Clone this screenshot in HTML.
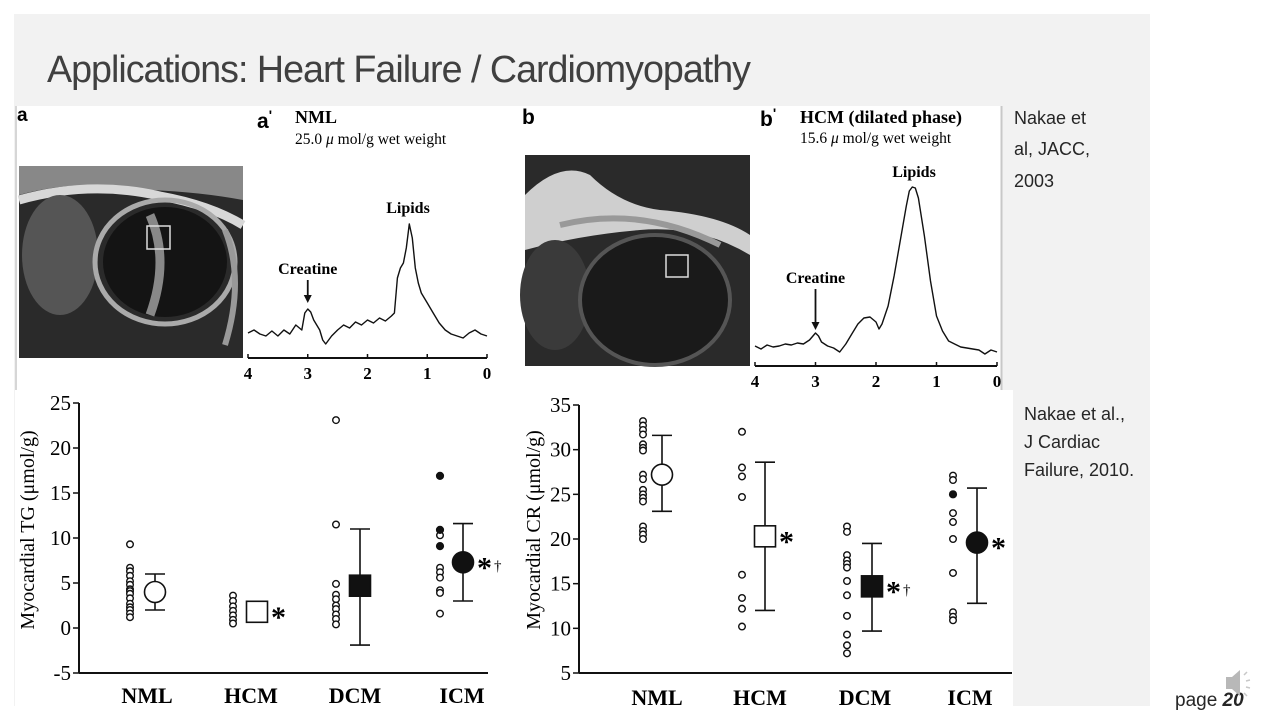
<!DOCTYPE html>
<html><head><meta charset="utf-8">
<style>
html,body{margin:0;padding:0;background:#fff;}
svg{display:block;}
.serif{font-family:"Liberation Serif","DejaVu Serif",serif;}
.sans{font-family:"Liberation Sans","DejaVu Sans",sans-serif;}
</style></head>
<body>
<svg id="slide" width="1280" height="720" viewBox="0 0 1280 720" xmlns="http://www.w3.org/2000/svg">
  <rect x="0" y="0" width="1280" height="720" fill="#ffffff"/>
  <rect x="14" y="14" width="1136" height="692" fill="#f2f2f2"/>
  <text class="sans" x="47" y="82" font-size="38" fill="#404040" textLength="703" lengthAdjust="spacingAndGlyphs" letter-spacing="-1">Applications: Heart Failure / Cardiomyopathy</text>
  <rect x="15" y="106" width="986" height="285" fill="#ffffff"/>
  <line x1="1001.5" y1="106" x2="1001.5" y2="390" stroke="#c8c8c8" stroke-width="2"/>
  <line x1="16" y1="106" x2="16" y2="390" stroke="#c8c8c8" stroke-width="1.5"/>
  <rect x="15" y="390" width="998" height="316" fill="#ffffff"/>

  <g class="sans" font-size="18" fill="#262626">
    <text x="1014" y="124">Nakae et</text>
    <text x="1014" y="155">al, JACC,</text>
    <text x="1014" y="187">2003</text>
  </g>
  <g class="sans" font-size="18" fill="#262626">
    <text x="1024" y="420">Nakae et al.,</text>
    <text x="1024" y="448">J Cardiac</text>
    <text x="1024" y="476">Failure, 2010.</text>
  </g>
  <text class="sans" x="1175" y="706" font-size="19" fill="#262626">page <tspan font-weight="bold" font-style="italic">20</tspan></text>
  <g transform="translate(1226,670)">
    <path d="M0 7 h6 l8 -7 v26 l-8 -7 h-6 z" fill="#b8b8b8"/>
    <path d="M18 5 l3 -3 M20 11 l4 -1 M20 17 l4 1 M18 23 l3 3" stroke="#c8c8c8" stroke-width="1.5"/>
  </g>

  <text class="sans" x="17" y="121" font-size="19" font-weight="bold">a</text>
  <text class="sans" x="257" y="128" font-size="21" font-weight="bold">a<tspan font-size="14" dy="-8">'</tspan></text>
  <text class="serif" x="295" y="123" font-size="18" font-weight="bold">NML</text>
  <text class="serif" x="295" y="144" font-size="15.5">25.0 <tspan font-style="italic">μ</tspan> mol/g wet weight</text>
  <text class="sans" x="522" y="124" font-size="21" font-weight="bold">b</text>
  <text class="sans" x="760" y="126" font-size="21" font-weight="bold">b<tspan font-size="14" dy="-8">'</tspan></text>
  <text class="serif" x="800" y="123" font-size="18" font-weight="bold">HCM (dilated phase)</text>
  <text class="serif" x="800" y="143" font-size="15.5">15.6 <tspan font-style="italic">μ</tspan> mol/g wet weight</text>

  <g>
    <rect x="19" y="166" width="224" height="192" fill="#2a2a2a"/>
    <path d="M19 195 Q80 178 150 190 Q200 192 243 200 L243 166 L19 166 Z" fill="#888"/>
    <path d="M19 200 Q90 180 160 196 Q210 205 243 225" stroke="#d8d8d8" stroke-width="9" fill="none"/>
    <ellipse cx="60" cy="255" rx="38" ry="60" fill="#555"/>
    <ellipse cx="165" cy="262" rx="70" ry="62" fill="none" stroke="#aaa" stroke-width="5"/>
    <ellipse cx="165" cy="262" rx="62" ry="55" fill="#141414"/>
    <path d="M150 215 Q170 260 150 315" stroke="#888" stroke-width="9" fill="none"/>
    <path d="M225 230 Q245 280 225 345" stroke="#999" stroke-width="6" fill="none"/>
    <rect x="147" y="226" width="23" height="23" fill="none" stroke="#ddd" stroke-width="1.5"/>
  </g>
  <g>
    <rect x="525" y="155" width="225" height="211" fill="#2a2a2a"/>
    <path d="M525 195 Q560 160 590 175 Q620 205 660 210 Q720 215 750 235 L750 255 Q700 225 640 230 Q580 235 525 250 Z" fill="#cfcfcf"/>
    <path d="M560 225 Q640 205 720 245" stroke="#999" stroke-width="6" fill="none"/>
    <ellipse cx="555" cy="295" rx="35" ry="55" fill="#3a3a3a"/>
    <ellipse cx="655" cy="300" rx="75" ry="65" fill="#1a1a1a" stroke="#555" stroke-width="4"/>
    <rect x="666" y="255" width="22" height="22" fill="none" stroke="#ddd" stroke-width="1.5"/>
  </g>

  <g id="spectra"></g>
  <g id="charts"></g>
</svg>

<script>
const ppmA = [4.0,3.9,3.8,3.7,3.6,3.5,3.4,3.3,3.2,3.1,3.05,3.0,2.95,2.9,2.8,2.75,2.7,2.6,2.5,2.4,2.3,2.2,2.1,2.0,1.9,1.8,1.7,1.6,1.55,1.5,1.45,1.4,1.35,1.3,1.25,1.2,1.15,1.1,1.0,0.9,0.8,0.7,0.6,0.5,0.4,0.3,0.2,0.1,0.0];
const intA = [25,28,24,22,27,22,28,24,33,28,45,49,46,38,28,18,14,22,28,33,30,36,33,38,35,40,37,42,45,80,90,95,110,134,120,90,75,65,55,45,35,28,24,22,20,25,28,24,22];
const ppmB = [4.0,3.9,3.8,3.7,3.6,3.5,3.4,3.3,3.2,3.1,3.0,2.95,2.9,2.8,2.7,2.6,2.5,2.4,2.3,2.2,2.1,2.0,1.95,1.9,1.8,1.7,1.6,1.5,1.45,1.4,1.35,1.3,1.2,1.1,1.0,0.9,0.8,0.7,0.6,0.5,0.4,0.3,0.2,0.1,0.0];
const intB = [20,17,21,19,20,22,21,23,22,26,33,30,24,20,18,14,22,32,42,48,49,44,37,42,60,90,125,160,175,179,178,168,130,85,50,35,25,22,19,18,17,16,12,16,14];
const ppmTicks = [4,3,2,1,0];

const groups = ["NML","HCM","DCM","ICM"];
const tgTicks = [25,20,15,10,5,0,-5];
const tgOpen = [
  [9.3,6.7,6.3,5.8,5.2,4.8,4.3,4.1,3.8,3.3,2.7,2.3,2.0,1.6,1.2],
  [3.6,3.0,2.4,1.9,1.4,0.9,0.5],
  [23.1,11.5,4.9,3.7,3.2,2.5,2.1,1.5,1.0,0.4],
  [10.3,6.7,6.2,5.6,4.2,3.9,1.6]
];
const tgFilled = [[],[],[],[16.9,10.9,9.1]];
const tgMean = [4.0,1.8,4.7,7.3];
const tgLow = [2.0,1.8,-1.9,3.0];
const tgHigh = [6.0,1.8,11.0,11.6];
const tgMarks = ["","*","","*†"];
const crTicks = [35,30,25,20,15,10,5];
const crOpen = [
  [33.2,32.7,32.2,31.7,30.6,30.2,29.9,27.2,26.7,25.5,25.0,24.6,24.2,21.4,20.9,20.5,20.0],
  [32.0,28.0,27.0,24.7,16.0,13.4,12.2,10.2],
  [21.4,20.8,18.2,17.6,17.2,16.8,15.3,13.7,11.4,9.3,8.1,7.2],
  [27.1,26.6,22.9,21.9,20.0,16.2,11.8,11.3,10.9]
];
const crFilled = [[],[],[],[25.0]];
const crMean = [27.2,20.3,14.7,19.6];
const crLow = [23.1,12.0,9.7,12.8];
const crHigh = [31.6,28.6,19.5,25.7];
const crMarks = ["","*","*†","*"];

const NS = "http://www.w3.org/2000/svg";
function mk(tag, attrs, parent){
  const e = document.createElementNS(NS, tag);
  for (const k in attrs) e.setAttribute(k, attrs[k]);
  parent.appendChild(e);
  return e;
}

const spec = document.getElementById('spectra');
function drawSpectrum(cfg, ppm, inten, name){
  const xs = p => cfg.x0 + (4 - p) / 4 * (cfg.x1 - cfg.x0);
  const ys = v => cfg.axisY - v;
  const g = mk('g', {}, spec);
  
  
  const pts = ppm.map((p,i) => xs(p).toFixed(1) + ',' + ys(inten[i]).toFixed(1)).join(' ');
  const line = mk('polyline', {points: pts, fill: 'none', stroke: '#111', 'stroke-width': 1.4, 'stroke-linejoin': 'round'}, g);
  
  
  const ax = mk('line', {x1: cfg.x0, x2: cfg.x1, y1: cfg.axisY, y2: cfg.axisY, stroke: '#111', 'stroke-width': 2}, g);
  
  
  ppmTicks.forEach(t => {
    mk('line', {x1: xs(t), x2: xs(t), y1: cfg.axisY - 4, y2: cfg.axisY, stroke: '#111', 'stroke-width': 1.5}, g);
    const tl = mk('text', {x: xs(t), y: cfg.axisY + 21, 'text-anchor': 'middle', 'font-size': 17, 'font-weight': 'bold', class: 'serif'}, g);
    tl.textContent = t;
    
    
  });
  const cr = mk('text', {x: xs(3.0), y: cfg.creY, 'text-anchor': 'middle', 'font-size': 16, 'font-weight': 'bold', class: 'serif'}, g);
  cr.textContent = 'Creatine';
  
  
  mk('line', {x1: xs(3.0), x2: xs(3.0), y1: cfg.creY + 6, y2: cfg.arrowEnd - 6, stroke: '#111', 'stroke-width': 1.8}, g);
  const ar = mk('path', {d: `M${xs(3.0)-4} ${cfg.arrowEnd-8} L${xs(3.0)+4} ${cfg.arrowEnd-8} L${xs(3.0)} ${cfg.arrowEnd} Z`, fill: '#111'}, g);
  
  
  const lp = mk('text', {x: cfg.lipX, y: cfg.lipY, 'text-anchor': 'middle', 'font-size': 16, 'font-weight': 'bold', class: 'serif'}, g);
  lp.textContent = 'Lipids';
  
  
}
drawSpectrum({x0: 248, x1: 487, axisY: 358, creY: 274, arrowEnd: 303, lipX: 408, lipY: 213}, ppmA, intA, 'spectrum-nml');
drawSpectrum({x0: 755, x1: 997, axisY: 366, creY: 283, arrowEnd: 330, lipX: 914, lipY: 177}, ppmB, intB, 'spectrum-hcm');

const charts = document.getElementById('charts');
const meanShapes = ['open-circle','open-square','filled-square','filled-circle'];
function drawChart(cfg, ticks, open, filled, mean, low, high, marks, name){
  const vmax = ticks[0], vmin = ticks[ticks.length-1];
  const ys = v => cfg.yTop + (vmax - v) / (vmax - vmin) * (cfg.yBot - cfg.yTop);
  const g = mk('g', {}, charts);
  
  
  const ya = mk('line', {x1: cfg.ax, x2: cfg.ax, y1: cfg.yTop, y2: cfg.yBot, stroke: '#111', 'stroke-width': 2}, g);
  
  
  const xa = mk('line', {x1: cfg.ax, x2: cfg.xEnd, y1: cfg.yBot, y2: cfg.yBot, stroke: '#111', 'stroke-width': 2}, g);
  
  
  ticks.forEach(t => {
    mk('line', {x1: cfg.ax - 6, x2: cfg.ax, y1: ys(t), y2: ys(t), stroke: '#111', 'stroke-width': 1.5}, g);
    const tl = mk('text', {x: cfg.ax - 8, y: ys(t) + 7, 'text-anchor': 'end', 'font-size': 21, class: 'serif'}, g);
    tl.textContent = t;
    
    
  });
  const tt = mk('text', {x: 0, y: 0, 'text-anchor': 'middle', 'font-size': 20, class: 'serif', transform: `translate(${cfg.titleX},${cfg.titleY}) rotate(-90)`}, g);
  tt.textContent = cfg.title;
  
  
  groups.forEach((grp, i) => {
    const dx = cfg.dotX[i], mx = cfg.meanX[i];
    const cl = mk('text', {x: cfg.labX[i], y: cfg.labY, 'text-anchor': 'middle', 'font-size': 22, 'font-weight': 'bold', class: 'serif'}, g);
    cl.textContent = grp;
    
    
    open[i].forEach(v => {
      const c = mk('circle', {cx: dx, cy: ys(v), r: 3.3, fill: '#fff', stroke: '#111', 'stroke-width': 1.4}, g);
      
      
    });
    filled[i].forEach(v => {
      const c = mk('circle', {cx: dx, cy: ys(v), r: 3.6, fill: '#111', stroke: '#111', 'stroke-width': 1}, g);
      
      
    });
    if (high[i] !== low[i]) {
      const eb = mk('path', {d: `M${mx} ${ys(high[i])} V${ys(low[i])} M${mx-10} ${ys(high[i])} H${mx+10} M${mx-10} ${ys(low[i])} H${mx+10}`, stroke: '#111', 'stroke-width': 1.6, fill: 'none'}, g);
      
      
    }
    const shape = meanShapes[i];
    const my = ys(mean[i]);
    let m;
    if (shape.endsWith('circle')) {
      m = mk('circle', {cx: mx, cy: my, r: 10.5, fill: shape.startsWith('filled') ? '#111' : '#fff', stroke: '#111', 'stroke-width': 1.6}, g);
    } else {
      m = mk('rect', {x: mx - 10.5, y: my - 10.5, width: 21, height: 21, fill: shape.startsWith('filled') ? '#111' : '#fff', stroke: '#111', 'stroke-width': 1.6}, g);
    }
    
    
    if (marks[i]) {
      const s = mk('text', {x: mx + 14, y: my + 15, 'font-size': 30, 'font-weight': 'bold', class: 'serif'}, g);
      s.textContent = '*';
      
      
      if (marks[i].length > 1) {
        const d = mk('text', {x: mx + 31, y: my + 8, 'font-size': 15, class: 'serif'}, g);
        d.textContent = '†';
        
        
      }
    }
  });
}
drawChart({ax: 79, xEnd: 488, yTop: 403, yBot: 673, titleX: 34, titleY: 530, title: 'Myocardial TG (μmol/g)',
  dotX: [130,233,336,440], meanX: [155,257,360,463], labX: [147,251,355,462], labY: 703},
  tgTicks, tgOpen, tgFilled, tgMean, tgLow, tgHigh, tgMarks, 'tg-chart');
drawChart({ax: 579, xEnd: 1012, yTop: 405, yBot: 673, titleX: 540, titleY: 530, title: 'Myocardial CR (μmol/g)',
  dotX: [643,742,847,953], meanX: [662,765,872,977], labX: [657,760,865,970], labY: 705},
  crTicks, crOpen, crFilled, crMean, crLow, crHigh, crMarks, 'cr-chart');
</script>
</body></html>
